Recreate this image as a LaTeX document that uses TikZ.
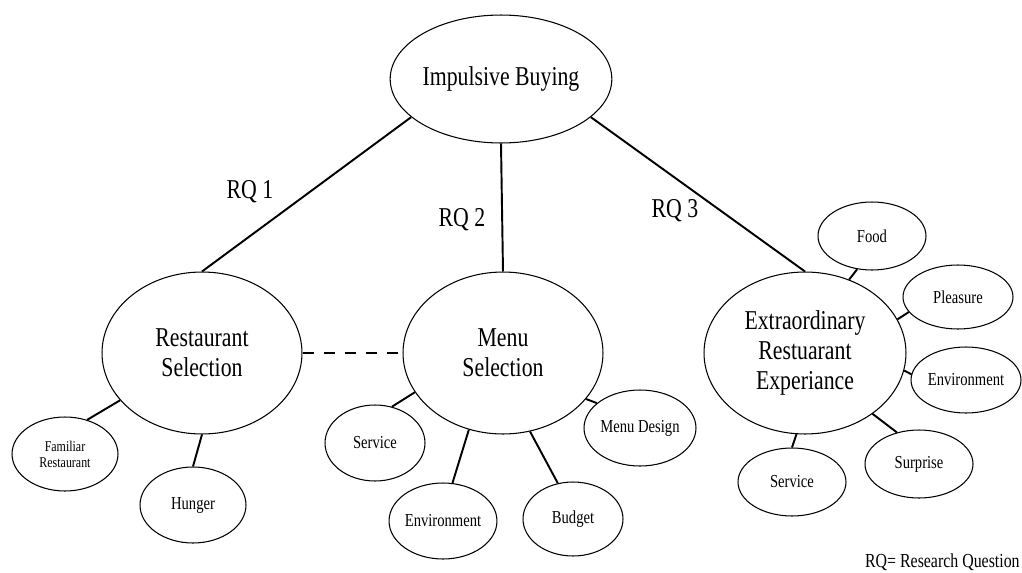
\documentclass[tikz,border=0pt]{standalone}
\usepackage{fontspec}
\setmainfont{Liberation Serif}[FakeStretch=0.8]
\usetikzlibrary{shapes.geometric}

\begin{document}
\begin{tikzpicture}[x=0.02cm,y=-0.02cm,
  bub/.style={draw,ellipse,line width=0.6pt,inner sep=0pt,align=center},
  big/.style={bub,font=\fontsize{15.5}{17}\selectfont},
  small/.style={bub,font=\fontsize{10.4}{12}\selectfont},
  link/.style={line width=1.1pt}]
\useasboundingbox (0,0) rectangle (1022,572);
\node[big,minimum width=4.4cm,minimum height=2.56cm] (ib) at (501,79) {Impulsive Buying};
\node[big,minimum width=4cm,minimum height=3.24cm] (rs) at (202,353) {Restaurant\\Selection};
\node[big,minimum width=4cm,minimum height=3.24cm] (ms) at (503,353) {Menu\\Selection};
\node[big,minimum width=4.04cm,minimum height=3.24cm] (es) at (805,353) {Extraordinary\\Restuarant\\Experiance};
\draw[link] (ib.203) -- (rs.north);
\draw[link] (ib.south) -- (ms.north);
\draw[link] (ib.337) -- (es.north);
\draw[link,dash pattern=on 6.3pt off 5.7pt] (rs.east) -- (ms.west);
\node[font=\fontsize{15.5}{17}\selectfont] (rq1) at (250,192) {RQ 1};
\node[font=\fontsize{15.5}{17}\selectfont] (rq2) at (462,220) {RQ 2};
\node[font=\fontsize{15.5}{17}\selectfont] (rq3) at (675,211) {RQ 3};
\node[small,font=\fontsize{8.5}{9.1}\selectfont,minimum width=2.12cm,minimum height=1.48cm] (fr) at (65,454) {Familiar\\Restaurant};
\node[small,minimum width=2.12cm,minimum height=1.52cm] (hu) at (193,505) {Hunger};
\node[small,minimum width=2cm,minimum height=1.52cm] (sv1) at (375,443) {Service};
\node[small,minimum width=2cm,minimum height=1.52cm] (en1) at (443,521) {Environment};
\node[small,minimum width=2cm,minimum height=1.48cm] (bu) at (573,519) {Budget};
\node[small,minimum width=2.24cm,minimum height=1.52cm] (md) at (640,428) {Menu Design};
\node[small,minimum width=2.16cm,minimum height=1.36cm] (fo) at (872,236) {Food};
\node[small,minimum width=2.2cm,minimum height=1.28cm] (pl) at (958,297) {Pleasure};
\node[small,minimum width=2.2cm,minimum height=1.32cm] (en2) at (966,380) {Environment};
\node[small,minimum width=2.16cm,minimum height=1.36cm] (su) at (919,464) {Surprise};
\node[small,minimum width=2.16cm,minimum height=1.36cm] (sv2) at (792,482) {Service};
\draw[link] (rs.210) -- (fr.57);
\draw[link] (rs.south) -- (hu.north);
\draw[link] (ms.204) -- (sv1.65);
\draw[link] (ms.246) -- (en1.76);
\draw[link] (ms.289) -- (bu.113);
\draw[link] (ms.331) -- (md.150);
\draw[link] (es.59) -- (fo.246);
\draw[link] (es.20) -- (pl.197);
\draw[link] (es.350) -- (en2.174);
\draw[link] (es.318) -- (su.125);
\draw[link] (es.264) -- (sv2.north);
\node[font=\fontsize{11.3}{13}\selectfont,anchor=east,inner sep=0pt] (key) at (1020,562) {RQ= Research Question};
\end{tikzpicture}
\end{document}
